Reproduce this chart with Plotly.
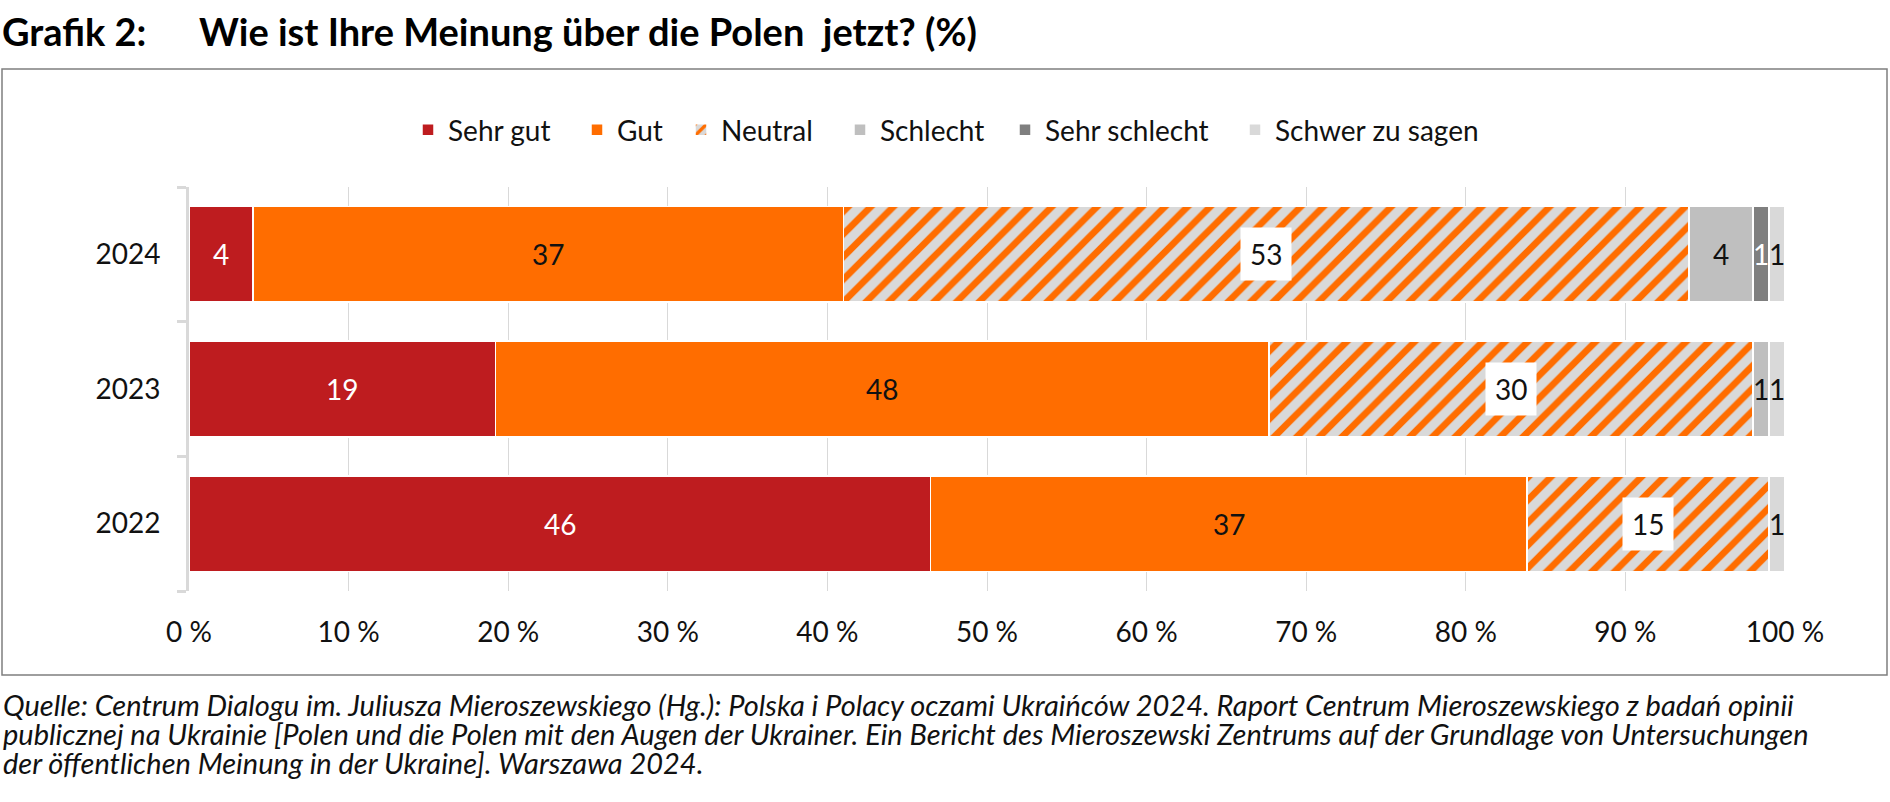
import plotly.graph_objects as go

# ---- data ----
years = ["2024", "2023", "2022"]
year_order = ["2022", "2023", "2024"]  # bottom to top
series_names = ["Sehr gut", "Gut", "Neutral", "Schlecht", "Sehr schlecht", "Schwer zu sagen"]
sehr_gut = [4, 19, 46]
gut = [37, 48, 37]
neutral = [53, 30, 15]
schlecht = [4, 1, 0]
sehr_schlecht = [1, 0, 0]
schwer = [1, 1, 1]
x_ticks = [0, 10, 20, 30, 40, 50, 60, 70, 80, 90, 100]
x_tick_labels = [f"{v} %" for v in x_ticks]

title_left = "Grafik 2:"
title_right = "Wie ist Ihre Meinung über die Polen  jetzt? (%)"
source_lines = [
    "Quelle: Centrum Dialogu im. Juliusza Mieroszewskiego (Hg.): Polska i Polacy oczami Ukraińców 2024. Raport Centrum Mieroszewskiego z badań opinii",
    "publicznej na Ukrainie [Polen und die Polen mit den Augen der Ukrainer. Ein Bericht des Mieroszewski Zentrums auf der Grundlage von Untersuchungen",
    "der öffentlichen Meinung in der Ukraine]. Warszawa 2024.",
]

all_series = [sehr_gut, gut, neutral, schlecht, sehr_schlecht, schwer]
colors = ["#be1c1f", "#ff6d00", "#d9d9d9", "#bfbfbf", "#7f7f7f", "#d9d9d9"]
text_colors = ["white", "#111111", "#111111", "#111111", "white", "#111111"]
legend_text_x = [408, 577, 681, 840, 1005, 1235]  # legend placement (pixels)

FONT = "Lato, 'Open Sans', sans-serif"
FS = 28
W, H = 1890, 802
L, R, T, B = 189, 105, 187, 211
pw, ph = W - L - R, H - T - B

def px(X):
    return (X - L) / pw

def py(Y):
    return (H - B - Y) / ph

fig = go.Figure()
legend_layouts = {}
for i, (name, vals) in enumerate(zip(series_names, all_series)):
    marker = dict(color=colors[i], line=dict(color="white", width=1.5))
    if name == "Neutral":
        marker["pattern"] = dict(shape="/", fgcolor="#ff6d00", bgcolor="#d9d9d9",
                                 fgopacity=1, size=16, solidity=0.42)
    lg = "legend" if i == 0 else f"legend{i + 1}"
    fig.add_trace(go.Bar(name=name, y=years, x=vals, orientation="h", marker=marker,
                         legend=lg, hoverinfo="skip"))
    legend_layouts[lg] = dict(orientation="h", x=px(legend_text_x[i]), xanchor="left",
                              y=py(130), yanchor="middle", bgcolor="rgba(0,0,0,0)",
                              font=dict(family=FONT, size=FS, color="#111111"),
                              itemclick=False, itemdoubleclick=False)

annotations = []
# data labels (paper coordinates derived from normalized cumulative values)
n_cat = len(year_order)
for j, yr in enumerate(years):
    total = sum(s[j] for s in all_series)
    yp = (year_order.index(yr) + 0.5) / n_cat
    cum = 0.0
    for i, s in enumerate(all_series):
        v = s[j]
        start = cum
        cum += v / total * 100
        if v == 0:
            continue
        a = dict(x=(start + cum) / 200, y=yp, xref="paper", yref="paper", text=str(v),
                 showarrow=False, xanchor="center", yanchor="middle",
                 font=dict(family=FONT, size=FS, color=text_colors[i]))
        if series_names[i] == "Neutral":
            a.update(bgcolor="white", borderpad=9)
        annotations.append(a)

# title
annotations.append(dict(x=px(0), y=py(31), xref="paper", yref="paper", text="<b>" + title_left + "</b>",
                        showarrow=False, xanchor="left", yanchor="middle",
                        font=dict(family=FONT, size=38, color="black")))
annotations.append(dict(x=px(197), y=py(31), xref="paper", yref="paper", text="<b>" + title_right + "</b>",
                        showarrow=False, xanchor="left", yanchor="middle",
                        font=dict(family=FONT, size=38, color="black")))
# source
for k, line in enumerate(source_lines):
    annotations.append(dict(x=px(1), y=py(704 + k * 29), xref="paper", yref="paper",
                            text="<i>" + line + "</i>", showarrow=False,
                            xanchor="left", yanchor="middle",
                            font=dict(family=FONT, size=29, color="#111111")))

fig.update_layout(
    width=W, height=H,
    margin=dict(l=L, r=R, t=T, b=B, pad=0),
    paper_bgcolor="white", plot_bgcolor="white",
    barmode="stack", barnorm="percent", bargap=0.29,
    font=dict(family=FONT, size=FS, color="#111111"),
    showlegend=True,
    annotations=annotations,
    shapes=[dict(type="rect", xref="paper", yref="paper",
                 x0=px(2), x1=px(1887), y0=py(675), y1=py(69),
                 line=dict(color="#7f7f7f", width=1.5), fillcolor="rgba(0,0,0,0)", layer="below")],
    **legend_layouts,
)
fig.update_xaxes(range=[0, 100], tickmode="array", tickvals=x_ticks, ticktext=x_tick_labels,
                 showgrid=True, gridcolor="#d9d9d9", gridwidth=1, zeroline=False,
                 showline=False, ticks="", ticklabelstandoff=22,
                 tickfont=dict(family=FONT, size=FS, color="#111111"))
fig.update_yaxes(type="category", categoryorder="array", categoryarray=year_order,
                 range=[-0.5, 2.5],
                 showline=True, linecolor="#d9d9d9", linewidth=3,
                 ticks="outside", tickson="boundaries", ticklen=9, tickwidth=3, tickcolor="#d9d9d9",
                 showgrid=False, ticklabelstandoff=20,
                 tickfont=dict(family=FONT, size=FS, color="#111111"))

fig.write_html("out.html")
